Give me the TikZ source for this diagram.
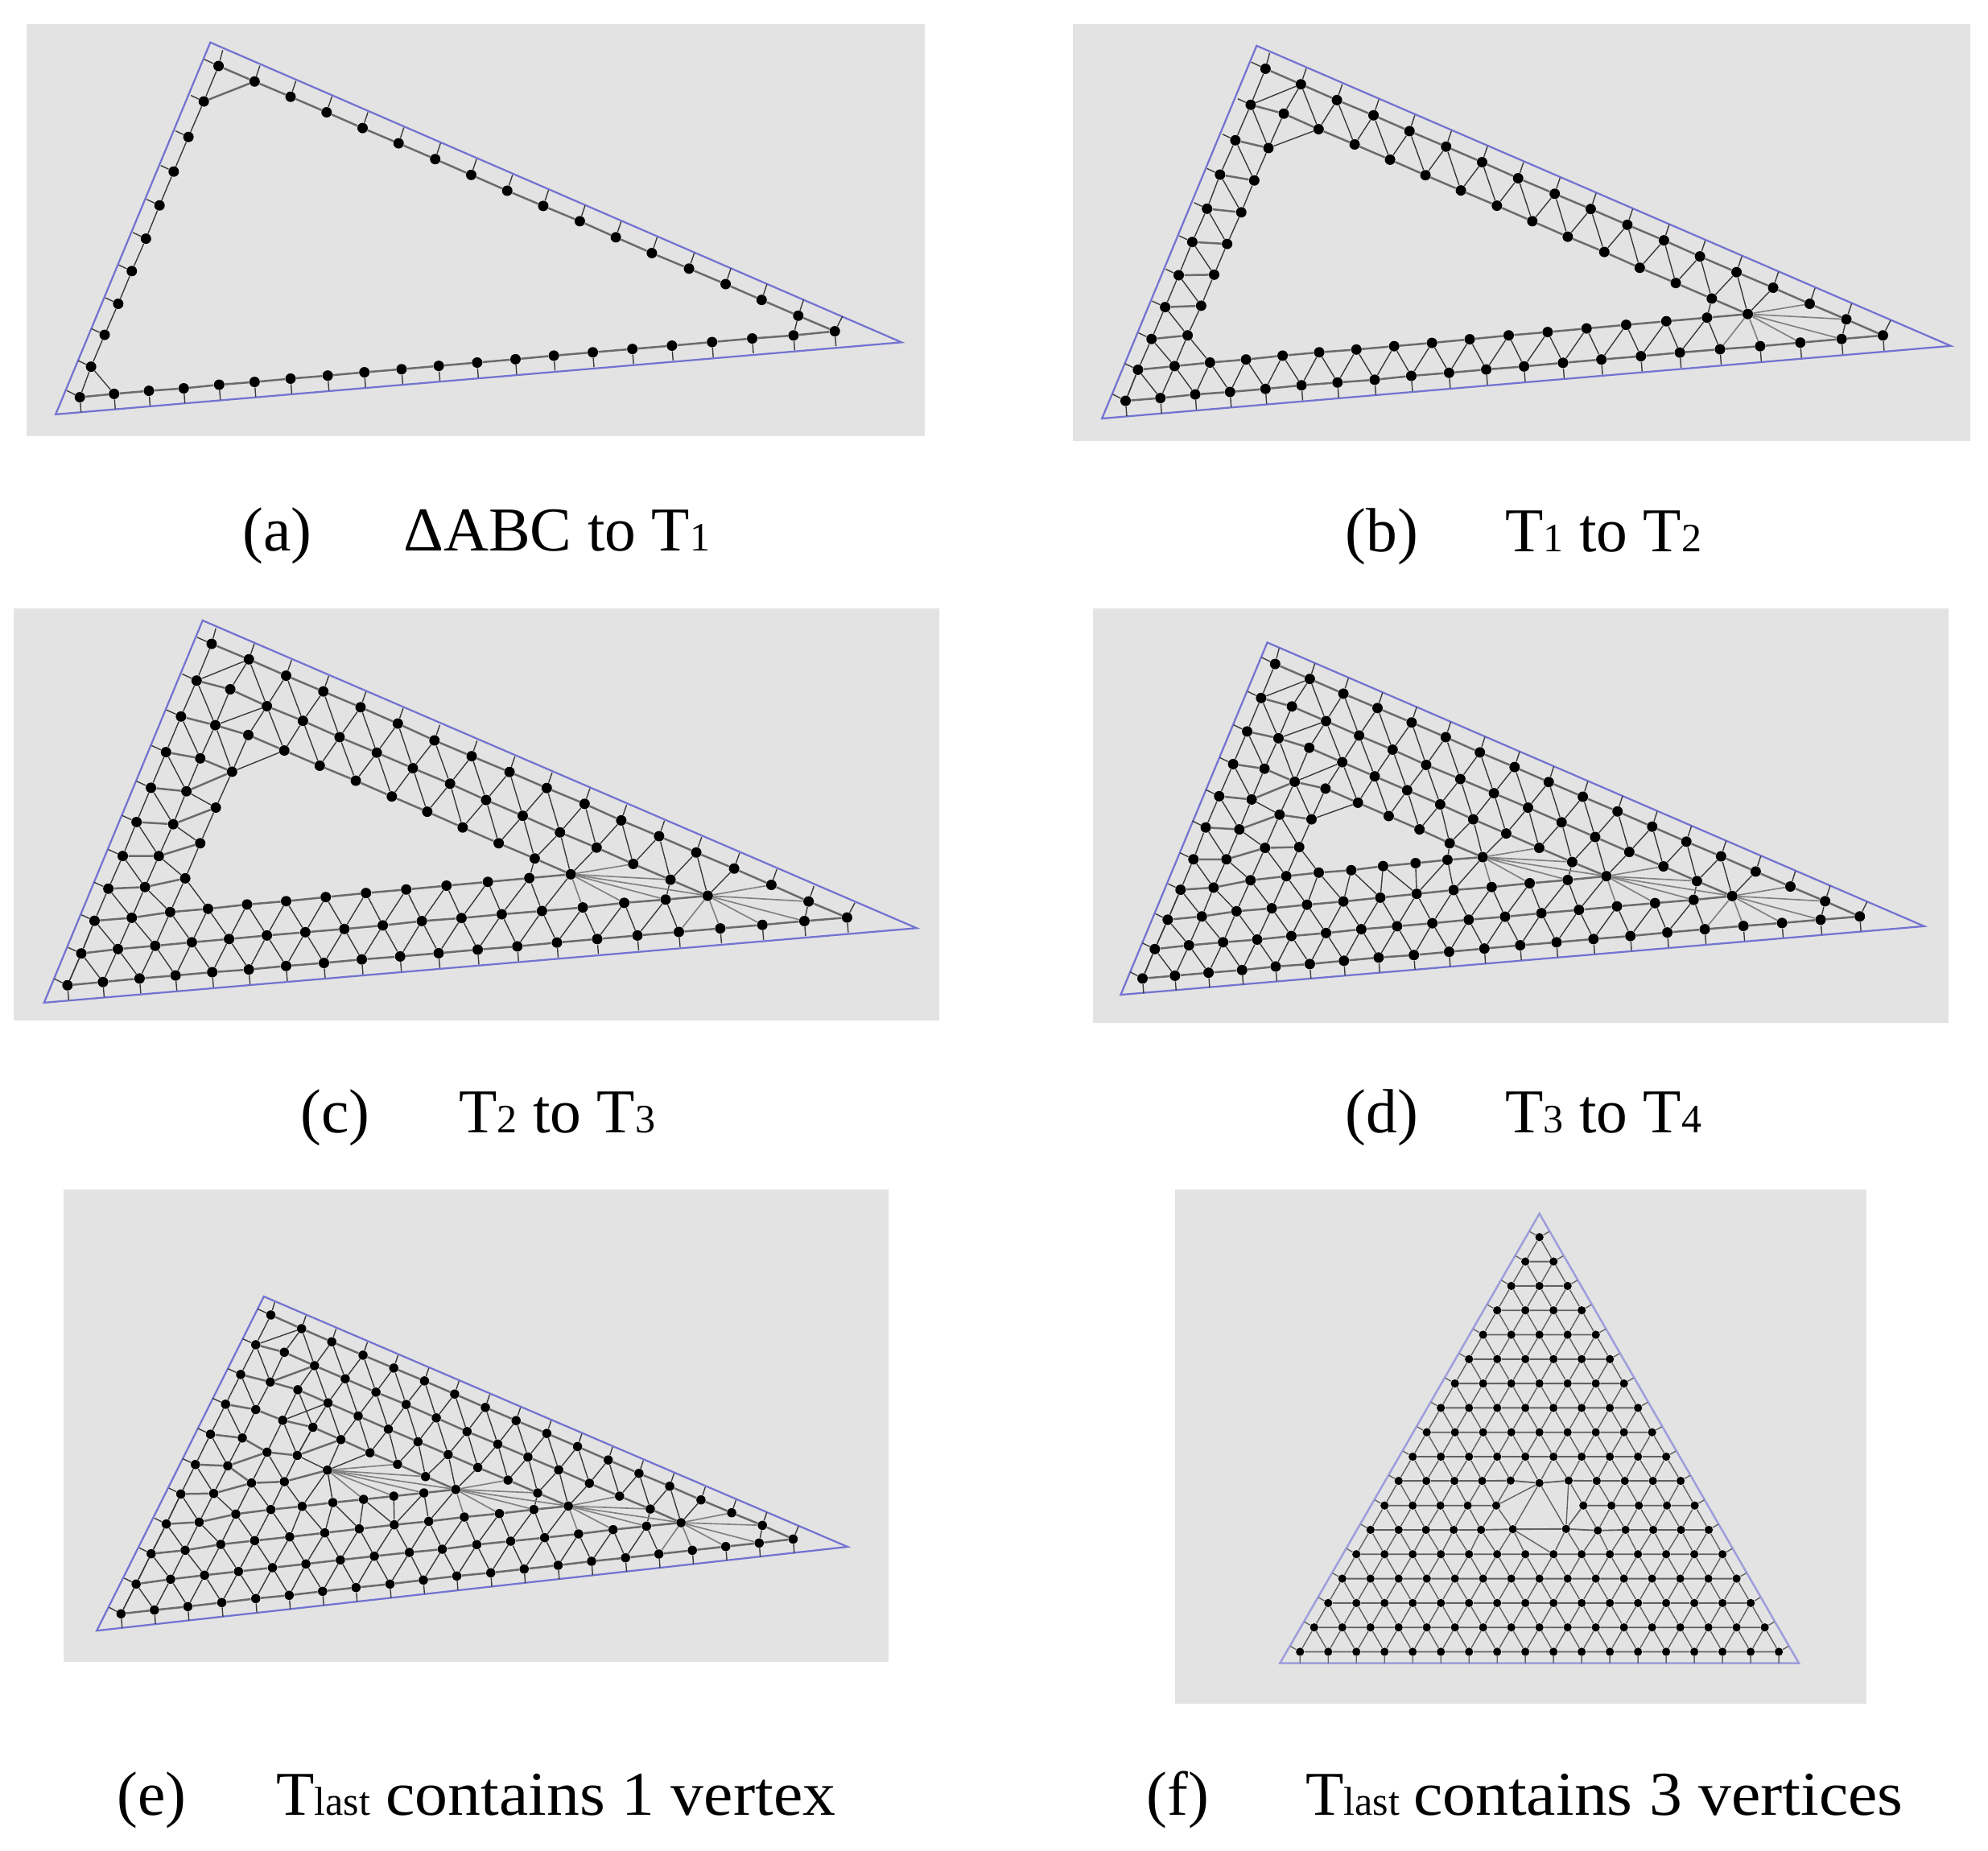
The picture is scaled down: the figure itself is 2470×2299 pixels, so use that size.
\documentclass[tikz,border=0pt]{standalone}
\usepackage{fontspec}
\setmainfont{Liberation Serif}
\newfontfamily\widefont[FakeStretch=1.055]{Liberation Serif}
\definecolor{panelgray}{HTML}{E3E3E3}
\definecolor{triblue}{rgb}{0.45,0.45,0.82}
\definecolor{triblueb}{rgb}{0.62,0.62,0.86}
\newcommand\ssub[1]{{\fontsize{20}{21}\selectfont #1}}
\newcommand\pts[4][rowline]{% style, name, start index, x/y list
  \foreach \x/\y [count=\i from #3] in {#4}{%
    \node[dot] (#2-\i) at (\x,\y) {};
    \ifnum\i>#3 \pgfmathtruncatemacro\previ{\i-1}\draw[#1] (#2-\previ)--(#2-\i);\fi
  }}
\newcommand\lk[1]{\foreach \a/\b in {#1}{\draw[meshline] (\a)--(\b);}}
\newcommand\rlk[1]{\foreach \a/\b in {#1}{\draw[rowline] (\a)--(\b);}}
\newcommand\fan[2]{\foreach \b in {#2}{\draw[fanline] (#1)--(\b);}}
\newcommand\zig[6]{\foreach \k in {#3,...,#4}{%
    \pgfmathtruncatemacro\ja{\k+#5}\pgfmathtruncatemacro\jb{\k+#6}%
    \draw[meshline] (#1-\k)--(#2-\ja) (#1-\k)--(#2-\jb);}}
\newcommand\ticks[5]{\foreach \k in {#2,...,#3}{\draw[meshline] (#1-\k)-- ++(#4,#5);}}
\tikzset{
  dot/.style={circle,fill=black,inner sep=0pt,minimum size=5.2pt},
  meshline/.style={black!78,line width=0.55pt},
  rowline/.style={black!58,line width=1pt},
  fanline/.style={black!50,line width=0.65pt},
  tri/.style={triblue,line width=0.9pt,line join=miter},
  panelbg/.style={fill=panelgray,draw=none},
  captext/.style={anchor=base west,inner sep=0pt,font=\fontsize{31}{36}\selectfont}
}
\begin{document}
\begin{tikzpicture}[x=0.4pt,y=-0.4pt]
\useasboundingbox (0,0) rectangle (2470,2299);
\fill[panelbg] (33,30) rectangle (1149,542);
\fill[panelbg] (1333,30) rectangle (2448,548);
\fill[panelbg] (17,756) rectangle (1167,1268);
\fill[panelbg] (1358,756) rectangle (2421,1271);
\fill[panelbg] (79,1478) rectangle (1104,2065);
\fill[panelbg] (1460,1478) rectangle (2319,2117);

% ---------- (a)
\begin{scope}[shift={(20,20)},xscale=.73342,yscale=.34439]
\draw[tri] (67,1437)--(329,95)--(1500,1177)--cycle;
\pts{a0}{0}{108/1375,166/1363,225/1352,284/1343,344/1330,404/1320,465/1308,528/1297,590/1285,653/1274,716/1262,781/1250,846/1238,911/1225,977/1213,1044/1201,1111/1189,1179/1176,1247/1163,1317/1152,1387/1137}
\pts[meshline]{aL}{1}{127/1265,150/1150,173/1038,196/920,220/803,243/683,267/561,292/436,318/308,343/180}
\pts{aT}{1}{404/236,465/291,526/347,587/404,648/459,710/516,771/573,832/630,893/685,955/740,1016/798,1077/855,1140/911,1202/967,1263/1024,1325/1081}
\lk{a0-0/aL-1,aL-1/a0-1,aT-16/a0-19}
\rlk{aL-10/aT-1,aT-16/a0-20,aL-9/aT-1}
\ticks{a0}{0}{20}{2}{54}
\ticks{aL}{1}{9}{-22}{-22}
\draw[meshline] (a0-0)-- ++(-22,-24);
\draw[meshline] (aL-10)-- ++(-24,-24) (aL-10)-- ++(7,-57);
\ticks{aT}{1}{16}{9}{-57}
\draw[meshline] (a0-20)-- ++(13,-54);
\end{scope}

% ---------- (b)
\begin{scope}[shift={(1320,20)},xscale=.73342,yscale=.34439]
\draw[tri] (67,1452)--(329,107)--(1505,1190)--cycle;
\pts{b0}{0}{107/1388,166/1378,225/1365,284/1356,344/1345,405/1332,466/1322,529/1312,591/1298,655/1287,718/1275,782/1264,848/1251,913/1239,980/1227,1046/1214,1114/1202,1182/1191,1250/1178,1320/1165,1390/1152}
\pts{b1}{0}{128/1276,190/1263,250/1250,311/1239,373/1225,435/1213,498/1203,562/1191,626/1179,690/1166,756/1152,822/1140,888/1127,955/1114,1023/1101,1092/1088,1161/1075}
\pts[meshline]{bL}{2}{151/1165,174/1050,197/935,220/815,245/695,267/572,293/448,319/320,344/190}
\pts[meshline]{bW}{2}{212/1152,235/1045,257/933,279/822,303/708,325/593,349/476}
\pts{bT}{1}{404/246,465/303,527/358,588/415,650/471,711/527,772/585,834/641,895/696,957/753,1019/809,1080/867,1142/924,1204/980,1266/1038,1328/1094}
\pts{bU}{1}{375/352,434/408,495/463,555/518,615/574,675/629,736/684,796/740,856/796,918/851,978/908,1039/963,1100/1019}
\lk{b0-0/b1-0,b1-0/bL-2,bL-2/b1-1,b1-1/bW-2,bW-2/b1-2}
\foreach \k in {2,...,8}{\pgfmathtruncatemacro\jj{\k+1}\draw[rowline] (bL-\k)--(bW-\k); \draw[meshline] (bL-\jj)--(bW-\k);}
\rlk{bL-10/bT-1,bT-16/b0-20,bL-9/bU-1,bU-13/b1-16}
\zig{bT}{bU}{1}{12}{0}{1}
\lk{bT-13/bU-13,bT-13/b1-16,bT-14/b1-16,bT-1/bL-9,bW-8/bU-2,bW-8/bU-1,bU-13/b1-15,bT-16/b0-19}
\zig{b1}{b0}{0}{15}{0}{1}
\fan{b1-16}{bT-15,bT-16,b0-19,b0-18,b0-17,b0-16}
\ticks{b0}{0}{20}{2}{55}
\draw[meshline] (b0-0)-- ++(-22,-24) (b1-0)-- ++(-22,-22) (bL-10)-- ++(-24,-24) (bL-10)-- ++(7,-57) (b0-20)-- ++(13,-54);
\ticks{bL}{2}{9}{-22}{-22}
\ticks{bT}{1}{16}{9}{-57}
\end{scope}

% ---------- (c)
\begin{scope}[shift={(10,750)},xscale=.74617,yscale=.33801]
\draw[tri] (60,1467)--(324,62)--(1513,1193)--cycle;
\pts{c0}{0}{99/1403,158/1391,219/1378,279/1367,340/1355,401/1345,463/1332,526/1321,589/1308,653/1297,717/1285,782/1272,848/1260,914/1246,981/1233,1048/1220,1117/1207,1186/1194,1256/1181,1326/1167,1397/1154}
\pts{c1}{0}{122/1286,183/1270,245/1258,306/1245,368/1233,431/1220,495/1208,560/1196,624/1183,689/1167,755/1156,822/1142,889/1130,957/1117,1026/1100,1095/1088,1165/1074}
\pts{c2}{0}{144/1166,206/1155,270/1134,333/1122,398/1106,463/1094,529/1079,596/1064,663/1051,730/1037,799/1023,868/1009,937/995}
\pts[meshline]{cL}{3}{167/1048,191/928,214/803,238/677,263/546,288/415,314/283,339/148}
\pts[meshline]{cM}{3}{228/1042,251/928,275/811,297/690,320/569,345/447,370/315}
\pts[meshline]{cN}{3}{295/1010,320/881,346/750,373/618}
\pts{cT}{1}{401/205,463/265,525/323,587/381,649/441,710/503,772/561,835/619,897/678,960/736,1021/797,1084/855,1146/915,1209/974,1271/1034,1333/1095}
\pts{cU}{2}{431/377,491/431,552/491,614/548,674/605,736/662,796/722,857/780,919/841,980/897,1041/957,1103/1015}
\pts{cV}{1}{400/483,460/540,519/596,579/651,639/709,698/765,757/823,817/881,877/937}
\lk{c0-0/c1-0,c1-0/c2-0,c2-0/cL-3,c2-1/cM-3,cL-3/c2-1,cM-3/c2-2,cN-3/c2-2,cN-3/c2-3,cM-4/cN-3,cM-5/cN-4,cM-6/cN-5}
\foreach \k in {3,...,8}{\pgfmathtruncatemacro\jj{\k+1}\draw[rowline] (cL-\k)--(cM-\k); \draw[meshline] (cL-\jj)--(cM-\k);}
\rlk{cL-9/cM-9,cM-3/cN-3,cM-4/cN-4,cM-5/cN-5,cM-6/cN-6,cM-7/cN-6,cL-10/cT-1,cT-16/c0-20,cM-9/cU-2,cU-13/c1-16,cM-8/cV-1,cV-9/c2-12}
\zig{cT}{cU}{2}{12}{0}{1}
\lk{cT-13/cU-13,cT-13/c1-16,cT-14/c1-16,cT-1/cL-9,cT-1/cM-9,cT-1/cU-2,cU-2/cM-8}
\zig{cU}{cV}{2}{9}{-1}{0}
\lk{cU-10/cV-9,cU-10/c2-12,cU-11/c2-12,cV-1/cN-6,cV-2/cN-6,cM-8/cN-6,c2-11/cV-9,c1-15/cU-13,c2-12/c1-12,cT-16/c0-19}
\zig{c2}{c1}{0}{11}{0}{1}
\zig{c1}{c0}{0}{15}{0}{1}
\fan{c2-12}{cU-12,cU-13,c1-16,c1-15,c1-14,c1-13}
\fan{c1-16}{cT-15,cT-16,c0-19,c0-18,c0-17,c0-16}
\ticks{c0}{0}{20}{2}{55}
\draw[meshline] (c0-0)-- ++(-22,-24) (c1-0)-- ++(-22,-22) (c2-0)-- ++(-22,-22) (cL-10)-- ++(-24,-24) (cL-10)-- ++(7,-57) (c0-20)-- ++(13,-54);
\ticks{cL}{3}{9}{-24}{-24}
\ticks{cT}{1}{16}{9}{-57}
\end{scope}

% ---------- (d)
\begin{scope}[shift={(1350,750)},xscale=.69515,yscale=.33801]
\draw[tri] (61,1438)--(323,143)--(1497,1186)--cycle;
\pts{d0}{0}{100/1378,158/1368,218/1357,278/1347,338/1334,399/1325,460/1313,522/1301,585/1292,648/1280,711/1268,775/1256,840/1245,906/1233,972/1222,1038/1209,1105/1197,1174/1185,1243/1174,1312/1162,1382/1150}
\pts{d1}{0}{122/1270,183/1256,244/1245,305/1235,366/1222,428/1211,491/1197,555/1186,618/1175,683/1162,748/1151,813/1138,880/1126,948/1113,1016/1101,1085/1089,1154/1075}
\pts{d2}{0}{145/1162,206/1150,268/1131,331/1120,394/1107,459/1095,525/1081,590/1067,656/1053,724/1042,792/1028,860/1016,929/1002}
\pts{d3}{0}{168/1052,227/1044,293/1017,357/1002,415/989,473/980,530/965,588/954,645/942,708/932}
\pts[meshline]{dL}{4}{191/940,213/823,237/708,262/590,287/470,312/347,337/222}
\pts[meshline]{dM}{4}{250/940,273/830,295/720,318/607,343/495,367/378}
\pts[meshline]{dN}{4}{319/898,345/776,372/655}
\pts[meshline]{dW}{4}{380/895,402/793}
\pts{dT}{1}{399/277,459/331,520/384,581/437,642/491,703/547,765/601,826/656,887/710,949/764,1011/820,1072/875,1134/929,1196/985,1258/1040,1320/1094}
\pts{dU}{2}{428/432,487/485,547/537,607/593,668/645,728/697,789/750,849/804,909/858,970/913,1031/966,1091/1020}
\pts{dV}{1}{398/530,457/583,515/635,573/686,632/738,691/793,750/845,809/898,868/950}
\pts{dX}{1}{427/680,485/732,540/781,595/830,649/881}
\lk{d0-0/d1-0,d1-0/d2-0,d2-0/d3-0,d3-0/dL-4,d3-1/dM-4,dL-4/d3-1,dM-4/d3-2,dM-5/dN-4,dM-6/dN-5,dN-4/d3-2,dN-5/dW-4,dN-4/d3-3,dW-4/d3-3,dW-4/d3-4,dW-5/dX-2,dW-5/dN-6,dW-5/dX-1}
\foreach \k in {4,...,8}{\pgfmathtruncatemacro\jj{\k+1}\draw[rowline] (dL-\k)--(dM-\k); \draw[meshline] (dL-\jj)--(dM-\k);}
\rlk{dL-9/dM-9,dM-4/dN-4,dM-5/dN-5,dM-6/dN-6,dM-7/dN-6,dN-4/dW-4,dN-5/dW-5,dN-6/dX-1,dX-5/d3-9,dV-9/d2-12,dM-8/dV-1,dM-9/dU-2,dU-13/d1-16,dL-10/dT-1,dT-16/d0-20}
\zig{dT}{dU}{2}{12}{0}{1}
\lk{dT-13/dU-13,dT-13/d1-16,dT-14/d1-16,dT-1/dL-9,dT-1/dM-9,dT-1/dU-2,dU-2/dM-8}
\zig{dU}{dV}{2}{9}{-1}{0}
\lk{dU-10/dV-9,dU-10/d2-12,dU-11/d2-12,dV-1/dN-6,dM-8/dN-6,dV-2/dN-6,d2-11/dV-9,d1-15/dU-13,d2-12/d1-12,dT-16/d0-19}
\zig{dV}{dX}{2}{5}{-1}{0}
\lk{dV-6/dX-5,dV-6/d3-9,dV-7/d3-9,dX-5/d3-8,d3-7/d2-7,d3-8/d2-7,d3-8/d2-8,d3-9/d2-8}
\zig{d3}{d2}{0}{6}{0}{1}
\zig{d2}{d1}{0}{11}{0}{1}
\zig{d1}{d0}{0}{15}{0}{1}
\fan{d3-9}{dV-8,dV-9,d2-12,d2-11,d2-10,d2-9}
\fan{d2-12}{dU-12,dU-13,d1-16,d1-15,d1-14,d1-13}
\fan{d1-16}{dT-15,dT-16,d0-19,d0-18,d0-17,d0-16}
\ticks{d0}{0}{20}{2}{54}
\draw[meshline] (d0-0)-- ++(-22,-24) (d1-0)-- ++(-22,-22) (d2-0)-- ++(-22,-22) (d3-0)-- ++(-22,-22) (dL-10)-- ++(-24,-24) (dL-10)-- ++(7,-57) (d0-20)-- ++(13,-54);
\ticks{dL}{4}{9}{-24}{-24}
\ticks{dT}{1}{16}{9}{-57}
\end{scope}

% ---------- (e)
\begin{scope}[shift={(70,1580)},xscale=.66964,yscale=.33300,dot/.style={circle,fill=black,inner sep=0pt,minimum size=4.6pt}]
\draw[tri] (75,1340)--(385,93)--(1468,1027)--cycle;
\pts{e0}{0}{120/1277,182/1263,244/1250,307/1235,370/1220,432/1208,494/1193,556/1179,619/1166,681/1151,743/1136,806/1124,868/1110,931/1096,993/1081,1056/1068,1118/1054,1180/1040,1242/1026,1304/1013,1367/998}
\pts{e1}{0}{148/1166,212/1148,275/1133,338/1119,401/1105,463/1091,527/1076,590/1062,655/1048,716/1036,780/1019,843/1006,906/993,969/979,1033/963,1095/950,1159/937}
\pts{e2}{0}{176/1053,239/1040,305/1018,368/1004,433/990,498/975,562/960,627/945,691/932,757/916,822/903,886/888,950/875}
\pts{e3}{0}{204/942,265/935,333/905,398/888,456/876,513/862,570/850,626/838,682/826,741/813}
\pts{e4}{0}{231/830,292/828,362/789,423/784,503/741}
\pts[meshline]{eL}{5}{258/720,286/607,314/495,342/384,370/273,398/162}
\pts[meshline]{eM}{5}{318/725,345/621,370/515,397/412,423/301}
\pts[meshline]{eN}{1}{391/674,420/555,448/441}
\pts[meshline]{eP}{1}{447/686,476/581}
\node[dot] (eP-3) at (528,627) {};
\pts{eT}{1}{455/213,511/262,569/312,626/360,683/408,739/457,796/507,853/556,910/604,967/653,1024/703,1081/753,1138/801,1196/852,1253/900,1310/947}
\pts{eU}{2}{479/351,536/400,593/450,649/496,705/546,762/597,819/644,875/692,932/740,989/790,1045/838,1102/886}
\pts{eV}{3}{504/490,560/539,616/588,671/635,727/683,782/731,838/778,893/826}
\pts{eX}{5}{582/676,633/719,685/765}
\lk{e0-0/e1-0,e1-0/e2-0,e2-0/e3-0,e3-0/e4-0,e4-0/eL-5,e4-1/eM-5,eL-5/e4-1,eL-6/eM-5,eL-7/eM-6,eL-8/eM-7,eL-9/eM-8}
\rlk{eL-5/eM-5,eL-6/eM-6,eL-7/eM-7,eL-8/eM-8,eL-9/eM-9,eM-5/e4-2,eM-5/eN-1,eM-6/eN-1,eN-1/eP-1,eP-1/eP-3,eM-7/eN-2,eN-2/eP-2,eP-2/eP-3,eM-8/eN-3,eN-3/eV-3,eM-9/eU-2,eM-8/eU-2,eL-10/eT-1,eT-16/e0-20,eU-13/e1-16,eV-10/e2-12,eX-7/e3-9,eX-5/eP-3}
\lk{eN-1/e4-2,eN-1/e4-3,eP-1/e4-3,eP-1/e4-4,eN-2/eP-1,eP-1/eP-2,eN-3/eU-2,eN-3/eP-2,eV-3/eN-2,eV-3/eP-2,eV-3/eP-3,eV-4/eP-3,eV-4/eX-5,eV-5/eX-5,eV-5/eX-6,eV-6/eX-6,eV-6/eX-7,eV-7/eX-7,eV-7/e3-9,eV-8/e3-9,eX-5/e4-4,eP-3/e4-4,e3-4/e4-4,e3-5/e4-4}
\zig{eT}{eU}{2}{12}{0}{1}
\lk{eT-13/eU-13,eT-13/e1-16,eT-14/e1-16,eT-1/eL-9,eT-1/eM-9,eT-1/eU-2,eU-2/eV-3}
\zig{eU}{eV}{3}{9}{0}{1}
\lk{eU-10/eV-10,eU-10/e2-12,eU-11/e2-12,e2-11/eV-10,e1-15/eU-13,e2-12/e1-12,eT-16/e0-19,e3-7/e2-7,e3-8/e2-7,e3-8/e2-8,e3-9/e2-8}
\zig{e4}{e3}{0}{3}{0}{1}
\zig{e3}{e2}{0}{6}{0}{1}
\zig{e2}{e1}{0}{11}{0}{1}
\zig{e1}{e0}{0}{15}{0}{1}
\fan{e4-4}{eX-6,eX-7,e3-9,e3-8,e3-7,e3-6}
\fan{e3-9}{eV-9,eV-10,e2-12,e2-11,e2-10,e2-9}
\fan{e2-12}{eU-12,eU-13,e1-16,e1-15,e1-14,e1-13}
\fan{e1-16}{eT-15,eT-16,e0-19,e0-18,e0-17,e0-16}
\ticks{e0}{0}{20}{2}{52}
\draw[meshline] (e0-0)-- ++(-22,-24) (e1-0)-- ++(-22,-22) (e2-0)-- ++(-22,-22) (e3-0)-- ++(-22,-22) (e4-0)-- ++(-22,-22) (eL-10)-- ++(-24,-22) (eL-10)-- ++(7,-47) (e0-20)-- ++(10,-48);
\ticks{eL}{5}{9}{-24}{-22}
\ticks{eT}{1}{16}{8}{-48}
\end{scope}

% ---------- (f)
\begin{scope}[shift={(1560,1480)},xscale=.45918,yscale=.38265,
  dot/.style={circle,fill=black,inner sep=0pt,minimum size=4.1pt},
  meshline/.style={black!62,line width=0.55pt},
  rowline/.style={black!62,line width=0.75pt},
  tri/.style={triblueb,line width=1pt}]
\draw[tri] (66,1533)--(768,73)--(1470,1533)--cycle;
\foreach \r in {0,1,2,3,4,8,9,10,11,12,13,14,15,16,17}{%
  \pgfmathtruncatemacro\nn{17-\r}%
  \foreach \c in {0,...,\nn}{%
    \pgfmathsetmacro\xc{768-\nn*38.1+\c*76.2}\pgfmathsetmacro\yc{1496-79.2*\r}%
    \node[dot] (f\r-\c) at (\xc,\yc) {};
    \ifnum\c>0 \pgfmathtruncatemacro\previ{\c-1}\draw[rowline] (f\r-\previ)--(f\r-\c);\fi
  }}
\pts{f5}{0}{311/1100,387/1100,461/1100,536/1100,610/1100,696/1098,840/1097,926/1102,1001/1100,1076/1100,1151/1100,1226/1100}
\pts{f6}{0}{349/1021,425/1021,500/1021,574/1021,651/1021}
\pts{f6}{5}{887/1021,963/1021,1037/1021,1113/1021,1188/1021}
\pts{f7}{0}{387/941,462/941,538/941,613/941,690/940,768/948,847/940,923/941,999/941,1075/941,1150/941}
\foreach \r in {0,1,2,3,7,8,9,10,11,12,13,14,15,16}{%
  \pgfmathtruncatemacro\nn{16-\r}\pgfmathtruncatemacro\rr{\r+1}%
  \zig{f\rr}{f\r}{0}{\nn}{0}{1}}
% hole region
\zig{f5}{f4}{0}{4}{0}{1}
\lk{f5-5/f4-5,f5-5/f4-6,f5-5/f4-7,f5-6/f4-7,f5-6/f4-8}
\zig{f5}{f4}{7}{11}{1}{2}
\zig{f6}{f5}{0}{4}{0}{1}
\lk{f5-5/f7-5,f5-6/f7-5,f5-6/f7-6,f5-6/f6-5,f6-4/f7-5}
\zig{f6}{f5}{5}{9}{1}{2}
\zig{f7}{f6}{0}{3}{0}{1}
\lk{f6-4/f7-4,f6-5/f7-6,f6-5/f7-7,f6-6/f7-7,f6-6/f7-8,f6-7/f7-8,f6-7/f7-9,f6-8/f7-9,f6-8/f7-10,f6-9/f7-10}
\ticks{f0}{0}{17}{0}{37}
\foreach \r/\nn in {0/17,1/16,2/15,3/14,4/13,5/11,6/9,7/10,8/9,9/8,10/7,11/6,12/5,13/4,14/3,15/2,16/1,17/0}{%
  \draw[meshline] (f\r-0)-- ++(-26,-18) (f\r-\nn)-- ++(26,-18);}
\end{scope}

% ---------- captions
\node[captext] (capa) at (301,684) {(a)};
\node[captext] (capat) at (501,684) {ΔABC to T\ssub{1}};
\node[captext] (capb) at (1671,685) {(b)};
\node[captext] (capbt) at (1870,685) {T\ssub{1} to T\ssub{2}};
\node[captext] (capc) at (373,1407) {(c)};
\node[captext] (capct) at (570,1407) {T\ssub{2} to T\ssub{3}};
\node[captext] (capd) at (1671,1407) {(d)};
\node[captext] (capdt) at (1870,1407) {T\ssub{3} to T\ssub{4}};
\node[captext] (cape) at (145,2255) {(e)};
\node[captext] (capet) at (343,2255) {T\ssub{last} {\widefont contains 1 vertex}};
\node[captext] (capf) at (1424,2255) {(f)};
\node[captext] (capft) at (1622,2255) {T\ssub{last}\kern-1pt{} {\widefont contains 3 vertices}};
\end{tikzpicture}
\end{document}
